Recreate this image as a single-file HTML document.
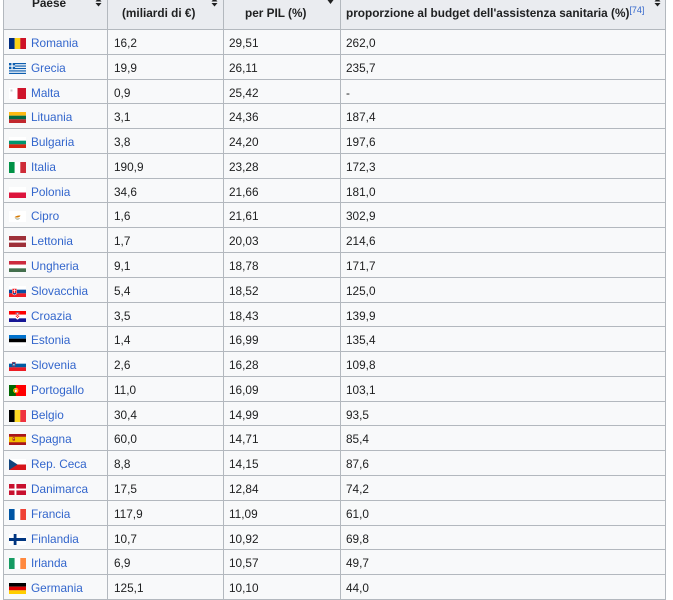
<!DOCTYPE html>
<html><head><meta charset="utf-8">
<style>
html,body{margin:0;padding:0;background:#fff;}
#w{position:relative;width:673px;height:600px;overflow:hidden;background:#fff;font-family:"Liberation Sans",Arial,sans-serif;font-size:11.8px;color:#202122;}
.hd{position:absolute;left:3px;top:-10px;width:663px;height:39px;background:#eaecf0;}
.ht{position:absolute;font-weight:bold;line-height:14px;white-space:nowrap;}
.r{position:absolute;left:3px;width:663px;background:#f8f9fa;border-top:1px solid #b3b8be;}
.r span{position:absolute;top:1px;line-height:24px;white-space:nowrap;}
.r .a{left:28px;color:#3366cc;}
.r .b{left:111px;}
.r .c{left:226px;}
.r .d{left:343px;}
.r svg{position:absolute;left:6px;top:8px;}
.v{position:absolute;top:0;width:1px;height:600px;background:#b3b8be;}
.s{position:absolute;}
</style></head><body><div id="w">
<div class="hd"></div>
<span class="ht" style="left:32px;top:-4px">Paese</span>
<span class="ht" style="left:122px;top:6px">(miliardi di €)</span>
<span class="ht" style="left:245px;top:6px">per PIL (%)</span>
<span class="ht" style="left:346px;top:6px">proporzione al budget dell'assistenza sanitaria (%)<sup style="color:#3366cc;font-weight:normal;font-size:9px;vertical-align:top;position:relative;top:-3px">[74]</sup></span>
<svg class="s" style="left:95px;top:-2px" width="7" height="9" viewBox="0 0 7 9"><path d="M3.5 0L6.5 3.5H0.5Z M0.5 5H6.5L3.5 8.5Z" fill="#202122"/></svg>
<svg class="s" style="left:211px;top:-2px" width="7" height="9" viewBox="0 0 7 9"><path d="M3.5 0L6.5 3.5H0.5Z M0.5 5H6.5L3.5 8.5Z" fill="#202122"/></svg>
<svg class="s" style="left:327px;top:0px" width="7" height="5" viewBox="0 0 7 5"><path d="M0.5 0H6.5L3.5 4Z" fill="#202122"/></svg>
<svg class="s" style="left:654px;top:-2px" width="7" height="9" viewBox="0 0 7 9"><path d="M3.5 0L6.5 3.5H0.5Z M0.5 5H6.5L3.5 8.5Z" fill="#202122"/></svg>

<div class="r" style="top:29px;height:24px"><svg width="17" height="11" viewBox="0 0 17 11"><rect width="5.7" height="11" fill="#002B7F"/><rect x="5.7" width="5.7" height="11" fill="#FCD116"/><rect x="11.3" width="5.7" height="11" fill="#CE1126"/></svg><span class="a">Romania</span><span class="b">16,2</span><span class="c">29,51</span><span class="d">262,0</span></div>
<div class="r" style="top:54px;height:24px"><svg width="17" height="11" viewBox="0 0 17 11"><rect width="17" height="11" fill="#fff"/><rect y="0" width="17" height="1.22" fill="#0D5EAF"/><rect y="2.44" width="17" height="1.22" fill="#0D5EAF"/><rect y="4.89" width="17" height="1.22" fill="#0D5EAF"/><rect y="7.33" width="17" height="1.22" fill="#0D5EAF"/><rect y="9.78" width="17" height="1.22" fill="#0D5EAF"/><rect width="6.1" height="6.1" fill="#0D5EAF"/><rect x="2.44" width="1.22" height="6.1" fill="#fff"/><rect y="2.44" width="6.1" height="1.22" fill="#fff"/></svg><span class="a">Grecia</span><span class="b">19,9</span><span class="c">26,11</span><span class="d">235,7</span></div>
<div class="r" style="top:79px;height:23px"><svg width="17" height="11" viewBox="0 0 17 11"><rect width="17" height="11" fill="#fff"/><rect x="8.5" width="8.5" height="11" fill="#CF142B"/><rect x="1.5" y="1.5" width="2" height="2" fill="#ccc"/></svg><span class="a">Malta</span><span class="b">0,9</span><span class="c">25,42</span><span class="d">-</span></div>
<div class="r" style="top:103px;height:24px"><svg width="17" height="11" viewBox="0 0 17 11"><rect width="17" height="3.67" fill="#FDB913"/><rect y="3.67" width="17" height="3.67" fill="#006A44"/><rect y="7.33" width="17" height="3.67" fill="#C1272D"/></svg><span class="a">Lituania</span><span class="b">3,1</span><span class="c">24,36</span><span class="d">187,4</span></div>
<div class="r" style="top:128px;height:24px"><svg width="17" height="11" viewBox="0 0 17 11"><rect width="17" height="3.67" fill="#fff"/><rect y="3.67" width="17" height="3.67" fill="#00966E"/><rect y="7.33" width="17" height="3.67" fill="#D62612"/></svg><span class="a">Bulgaria</span><span class="b">3,8</span><span class="c">24,20</span><span class="d">197,6</span></div>
<div class="r" style="top:153px;height:24px"><svg width="17" height="11" viewBox="0 0 17 11"><rect width="5.7" height="11" fill="#009246"/><rect x="5.7" width="5.7" height="11" fill="#fff"/><rect x="11.3" width="5.7" height="11" fill="#CE2B37"/></svg><span class="a">Italia</span><span class="b">190,9</span><span class="c">23,28</span><span class="d">172,3</span></div>
<div class="r" style="top:178px;height:23px"><svg width="17" height="11" viewBox="0 0 17 11"><rect width="17" height="5.5" fill="#fff"/><rect y="5.5" width="17" height="5.5" fill="#DC143C"/></svg><span class="a">Polonia</span><span class="b">34,6</span><span class="c">21,66</span><span class="d">181,0</span></div>
<div class="r" style="top:202px;height:24px"><svg width="17" height="11" viewBox="0 0 17 11"><rect width="17" height="11" fill="#fff"/><path d="M5.5 6.2C7 4.8 9.5 4.2 11.5 4.6L10.8 5.6C9.2 6.6 7.2 6.8 5.5 6.2Z" fill="#D57800"/><path d="M6.5 7.6Q8.5 8.6 10.5 7.6" stroke="#4E5B31" stroke-width="0.6" fill="none"/></svg><span class="a">Cipro</span><span class="b">1,6</span><span class="c">21,61</span><span class="d">302,9</span></div>
<div class="r" style="top:227px;height:24px"><svg width="17" height="11" viewBox="0 0 17 11"><rect width="17" height="11" fill="#9E3039"/><rect y="4.4" width="17" height="2.2" fill="#fff"/></svg><span class="a">Lettonia</span><span class="b">1,7</span><span class="c">20,03</span><span class="d">214,6</span></div>
<div class="r" style="top:252px;height:24px"><svg width="17" height="11" viewBox="0 0 17 11"><rect width="17" height="3.67" fill="#CD2A3E"/><rect y="3.67" width="17" height="3.67" fill="#fff"/><rect y="7.33" width="17" height="3.67" fill="#436F4D"/></svg><span class="a">Ungheria</span><span class="b">9,1</span><span class="c">18,78</span><span class="d">171,7</span></div>
<div class="r" style="top:277px;height:24px"><svg width="17" height="11" viewBox="0 0 17 11"><rect width="17" height="3.67" fill="#fff"/><rect y="3.67" width="17" height="3.67" fill="#0B4EA2"/><rect y="7.33" width="17" height="3.67" fill="#EE1C25"/><path d="M3 2.3H8V6.5Q8 8.6 5.5 9.3Q3 8.6 3 6.5Z" fill="#fff"/><path d="M3.4 2.7H7.6V6.4Q7.6 8.2 5.5 8.8Q3.4 8.2 3.4 6.4Z" fill="#EE1C25"/><rect x="5.1" y="3.2" width="0.8" height="4" fill="#fff"/><rect x="4.2" y="4.2" width="2.6" height="0.7" fill="#fff"/><path d="M3.8 7.4Q5.5 6.4 7.2 7.4Q6.5 8.5 5.5 8.7Q4.5 8.5 3.8 7.4Z" fill="#0B4EA2"/></svg><span class="a">Slovacchia</span><span class="b">5,4</span><span class="c">18,52</span><span class="d">125,0</span></div>
<div class="r" style="top:302px;height:23px"><svg width="17" height="11" viewBox="0 0 17 11"><rect width="17" height="3.67" fill="#FF0000"/><rect y="3.67" width="17" height="3.67" fill="#fff"/><rect y="7.33" width="17" height="3.67" fill="#171796"/><path d="M6.8 2.5H10.2V6.5Q10.2 8 8.5 8.6Q6.8 8 6.8 6.5Z" fill="#fff"/><rect x="6.8" y="2.5" width="1.1" height="1.1" fill="#FF0000"/><rect x="9.1" y="2.5" width="1.1" height="1.1" fill="#FF0000"/><rect x="7.95" y="3.6" width="1.1" height="1.1" fill="#FF0000"/><rect x="6.8" y="4.7" width="1.1" height="1.1" fill="#FF0000"/><rect x="9.1" y="4.7" width="1.1" height="1.1" fill="#FF0000"/><rect x="7.95" y="5.8" width="1.1" height="1.1" fill="#FF0000"/><rect x="6.6" y="1.6" width="3.8" height="0.9" fill="#6A9CD6"/></svg><span class="a">Croazia</span><span class="b">3,5</span><span class="c">18,43</span><span class="d">139,9</span></div>
<div class="r" style="top:326px;height:24px"><svg width="17" height="11" viewBox="0 0 17 11"><rect width="17" height="3.67" fill="#0072CE"/><rect y="3.67" width="17" height="3.67" fill="#000"/><rect y="7.33" width="17" height="3.67" fill="#fff"/></svg><span class="a">Estonia</span><span class="b">1,4</span><span class="c">16,99</span><span class="d">135,4</span></div>
<div class="r" style="top:351px;height:24px"><svg width="17" height="11" viewBox="0 0 17 11"><rect width="17" height="3.67" fill="#fff"/><rect y="3.67" width="17" height="3.67" fill="#005DA4"/><rect y="7.33" width="17" height="3.67" fill="#ED1C24"/><path d="M3.2 2.2H6.4V5Q6.4 6.4 4.8 7Q3.2 6.4 3.2 5Z" fill="#005DA4" stroke="#ED1C24" stroke-width="0.4"/><path d="M3.6 5.2L4.4 4L4.8 4.6L5.2 4L6 5.2Z" fill="#fff"/></svg><span class="a">Slovenia</span><span class="b">2,6</span><span class="c">16,28</span><span class="d">109,8</span></div>
<div class="r" style="top:376px;height:24px"><svg width="17" height="11" viewBox="0 0 17 11"><rect width="17" height="11" fill="#FF0000"/><rect width="6.8" height="11" fill="#006600"/><circle cx="6.8" cy="5.5" r="2.6" fill="#FFE100"/><path d="M5.5 4.2H8.1V6.2Q8.1 7.3 6.8 7.6Q5.5 7.3 5.5 6.2Z" fill="#fff" stroke="#FF0000" stroke-width="0.5"/></svg><span class="a">Portogallo</span><span class="b">11,0</span><span class="c">16,09</span><span class="d">103,1</span></div>
<div class="r" style="top:401px;height:23px"><svg width="17" height="12" viewBox="0 0 17 12" style="top:7.5px"><rect width="5.7" height="12" fill="#000"/><rect x="5.7" width="5.7" height="12" fill="#FDDA24"/><rect x="11.3" width="5.7" height="12" fill="#EF3340"/></svg><span class="a">Belgio</span><span class="b">30,4</span><span class="c">14,99</span><span class="d">93,5</span></div>
<div class="r" style="top:425px;height:24px"><svg width="17" height="11" viewBox="0 0 17 11"><rect width="17" height="11" fill="#AA151B"/><rect y="2.75" width="17" height="5.5" fill="#F1BF00"/><rect x="3.6" y="3.4" width="2.4" height="3.2" rx="0.6" fill="#AD1519"/><rect x="4.2" y="4" width="1.2" height="1.3" fill="#E8C25A"/></svg><span class="a">Spagna</span><span class="b">60,0</span><span class="c">14,71</span><span class="d">85,4</span></div>
<div class="r" style="top:450px;height:24px"><svg width="17" height="11" viewBox="0 0 17 11"><rect width="17" height="5.5" fill="#fff"/><rect y="5.5" width="17" height="5.5" fill="#D7141A"/><path d="M0 0L8.5 5.5L0 11Z" fill="#11457E"/></svg><span class="a">Rep. Ceca</span><span class="b">8,8</span><span class="c">14,15</span><span class="d">87,6</span></div>
<div class="r" style="top:475px;height:24px"><svg width="17" height="11" viewBox="0 0 17 11"><rect width="17" height="11" fill="#C8102E"/><rect x="5.5" width="1.9" height="11" fill="#fff"/><rect y="4.55" width="17" height="1.9" fill="#fff"/></svg><span class="a">Danimarca</span><span class="b">17,5</span><span class="c">12,84</span><span class="d">74,2</span></div>
<div class="r" style="top:500px;height:24px"><svg width="17" height="11" viewBox="0 0 17 11"><rect width="5.7" height="11" fill="#0055A4"/><rect x="5.7" width="5.7" height="11" fill="#fff"/><rect x="11.3" width="5.7" height="11" fill="#EF4135"/></svg><span class="a">Francia</span><span class="b">117,9</span><span class="c">11,09</span><span class="d">61,0</span></div>
<div class="r" style="top:525px;height:23px"><svg width="17" height="11" viewBox="0 0 17 11"><rect width="17" height="11" fill="#fff"/><rect x="4.7" width="2.8" height="11" fill="#003580"/><rect y="4" width="17" height="3" fill="#003580"/></svg><span class="a">Finlandia</span><span class="b">10,7</span><span class="c">10,92</span><span class="d">69,8</span></div>
<div class="r" style="top:549px;height:24px"><svg width="17" height="11" viewBox="0 0 17 11"><rect width="5.7" height="11" fill="#169B62"/><rect x="5.7" width="5.7" height="11" fill="#fff"/><rect x="11.3" width="5.7" height="11" fill="#FF883E"/></svg><span class="a">Irlanda</span><span class="b">6,9</span><span class="c">10,57</span><span class="d">49,7</span></div>
<div class="r" style="top:574px;height:24px"><svg width="17" height="11" viewBox="0 0 17 11"><rect width="17" height="3.67" fill="#000"/><rect y="3.67" width="17" height="3.67" fill="#DD0000"/><rect y="7.33" width="17" height="3.67" fill="#FFCE00"/></svg><span class="a">Germania</span><span class="b">125,1</span><span class="c">10,10</span><span class="d">44,0</span></div>
<div class="r" style="top:599px;height:10px"></div>

<div class="v" style="left:3px"></div>
<div class="v" style="left:107px"></div>
<div class="v" style="left:223px"></div>
<div class="v" style="left:340px"></div>
<div class="v" style="left:665px"></div>
</div></body></html>
